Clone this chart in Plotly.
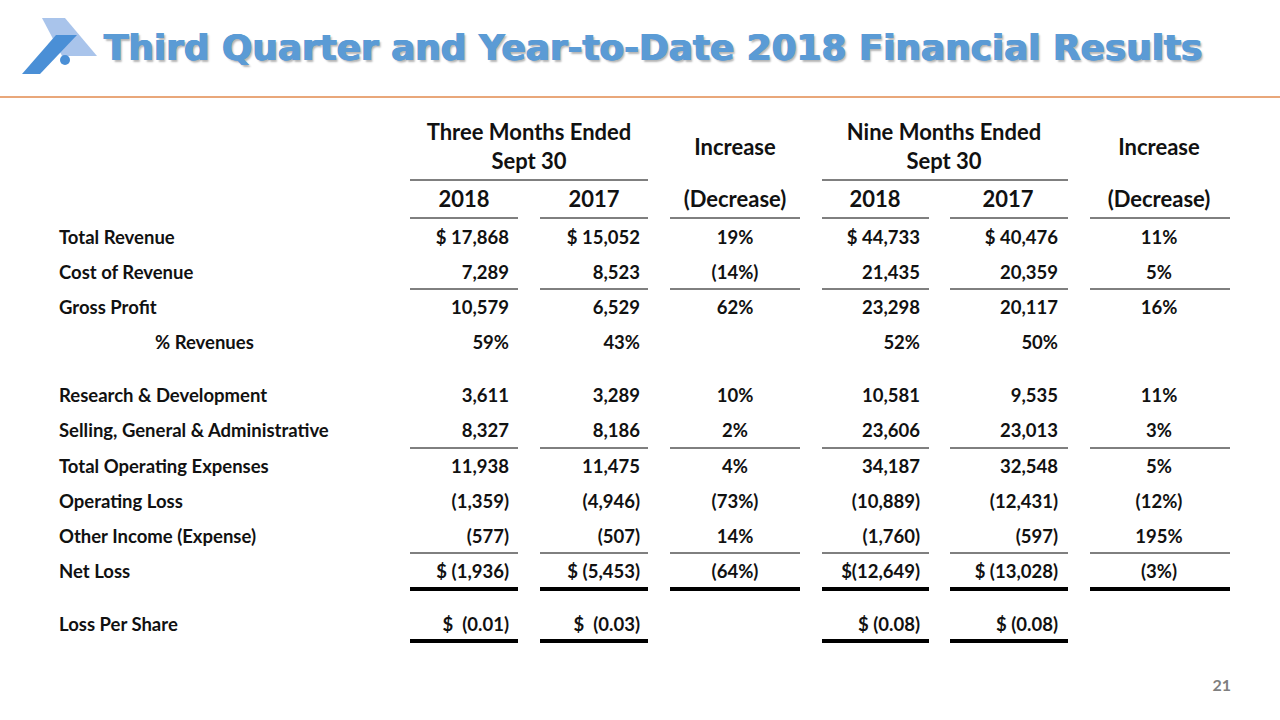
import plotly.graph_objects as go

# ---------------- data ----------------
row_labels = ["Total Revenue", "Cost of Revenue", "Gross Profit", "% Revenues",
              "Research & Development", "Selling, General & Administrative",
              "Total Operating Expenses", "Operating Loss", "Other Income (Expense)",
              "Net Loss", "Loss Per Share"]
q3_2018 = ["$ 17,868", "7,289", "10,579", "59%", "3,611", "8,327", "11,938",
           "(1,359)", "(577)", "$ (1,936)", "$\u00a0\u00a0(0.01)"]
q3_2017 = ["$ 15,052", "8,523", "6,529", "43%", "3,289", "8,186", "11,475",
           "(4,946)", "(507)", "$ (5,453)", "$\u00a0\u00a0(0.03)"]
q3_change = ["19%", "(14%)", "62%", "", "10%", "2%", "4%", "(73%)", "14%", "(64%)", ""]
ytd_2018 = ["$ 44,733", "21,435", "23,298", "52%", "10,581", "23,606", "34,187",
            "(10,889)", "(1,760)", "$(12,649)", "$ (0.08)"]
ytd_2017 = ["$ 40,476", "20,359", "20,117", "50%", "9,535", "23,013", "32,548",
            "(12,431)", "(597)", "$ (13,028)", "$ (0.08)"]
ytd_change = ["11%", "5%", "16%", "", "11%", "3%", "5%", "(12%)", "195%", "(3%)", ""]

group_headers = ["Three Months Ended<br>Sept 30", "Increase", "Nine Months Ended<br>Sept 30", "Increase"]
col_headers = ["2018", "2017", "(Decrease)", "2018", "2017", "(Decrease)"]
title = "Third Quarter and Year-to-Date 2018 Financial Results"
page_no = "21"

# ---------------- layout (pixel space) ----------------
row_y = [239, 274, 309, 344, 397, 432, 468, 503, 538, 573, 626]
label_x = [59, 59, 59, 155, 59, 59, 59, 59, 59, 59, 59]
col_seg = [(410, 518), (540, 648), (670, 800), (822, 929), (950, 1068), (1090, 1230)]
col_anchor = [509, 640, 735, 920, 1058, 1159]
col_align = ["middle left", "middle left", "middle center", "middle left", "middle left", "middle center"]

FONT = "Lato"
TXT = "#111111"
BODY = 18.5
HEAD = 22
TITLE_BLUE = "#5B9BD5"
fig = go.Figure()

# labels
fig.add_trace(go.Scatter(x=label_x, y=row_y, text=row_labels, mode="text",
                         textposition="middle right",
                         textfont=dict(family=FONT, size=BODY, color=TXT, weight="bold"),
                         hoverinfo="skip"))

columns = [q3_2018, q3_2017, q3_change, ytd_2018, ytd_2017, ytd_change]
for vals, ax, pos in zip(columns, col_anchor, col_align):
    fig.add_trace(go.Scatter(x=[ax] * len(vals), y=row_y, text=vals, mode="text",
                             textposition=pos,
                             textfont=dict(family=FONT, size=BODY, color=TXT, weight="bold"),
                             hoverinfo="skip"))

# headers
gh_x = [529, 735, 944, 1159]
gh_y = [149, 149, 149, 149]
fig.add_trace(go.Scatter(x=gh_x, y=gh_y, text=group_headers, mode="text",
                         textposition="middle center",
                         textfont=dict(family=FONT, size=HEAD, color=TXT, weight="bold"),
                         hoverinfo="skip"))
ch_x = [464, 594, 735, 875, 1008, 1159]
fig.add_trace(go.Scatter(x=ch_x, y=[201] * 6, text=col_headers, mode="text",
                         textposition="middle center",
                         textfont=dict(family=FONT, size=HEAD, color=TXT, weight="bold"),
                         hoverinfo="skip"))

# rules
def seg_trace(segs, y, width):
    xs, ys = [], []
    for a, b in segs:
        xs += [a, b, None]
        ys += [y, y, None]
    return go.Scatter(x=xs, y=ys, mode="lines", line=dict(color="#000000", width=width),
                      hoverinfo="skip")

fig.add_trace(seg_trace([(410, 648), (822, 1068)], 180, 1))
fig.add_trace(seg_trace(col_seg, 218, 1))
fig.add_trace(seg_trace(col_seg, 289, 1))
fig.add_trace(seg_trace(col_seg, 448, 1))
fig.add_trace(seg_trace(col_seg, 553, 1))
fig.add_trace(seg_trace(col_seg, 589, 4))
fig.add_trace(seg_trace([col_seg[0], col_seg[1], col_seg[3], col_seg[4]], 641, 4))

# orange separator
fig.add_trace(go.Scatter(x=[0, 1280], y=[97, 97], mode="lines",
                         line=dict(color="#E9A77A", width=2), hoverinfo="skip"))

# title
fig.add_trace(go.Scatter(x=[104], y=[51], text=[title], mode="text",
                         textposition="middle right",
                         textfont=dict(family="DejaVu Sans", size=35.8, color=TITLE_BLUE, weight="bold",
                                       shadow=f"0.7px 0 0 {TITLE_BLUE}, -0.7px 0 0 {TITLE_BLUE}, 2px 2px 2px #b5b5b5"),
                         hoverinfo="skip"))
# page number
fig.add_trace(go.Scatter(x=[1231], y=[687], text=[page_no], mode="text",
                         textposition="middle left",
                         textfont=dict(family=FONT, size=16, color="#7f7f7f", weight="bold"),
                         hoverinfo="skip"))

# logo shapes
fig.add_shape(type="path", path="M 42 18 L 65 18 L 97 56 L 62 56 Z",
              fillcolor="#A9C4EB", line=dict(width=0), layer="above")
fig.add_shape(type="path", path="M 22 74 L 40 74 L 77 35 L 56 35 Z",
              fillcolor="#4A8FD6", line=dict(width=0), layer="above")
fig.add_shape(type="circle", x0=60, x1=70, y0=55, y1=65,
              fillcolor="#4A8FD6", line=dict(width=0), layer="above")

fig.update_layout(
    width=1280, height=720, margin=dict(l=0, r=0, t=0, b=0),
    paper_bgcolor="white", plot_bgcolor="white", showlegend=False,
    xaxis=dict(range=[0, 1280], visible=False, fixedrange=True),
    yaxis=dict(range=[720, 0], visible=False, fixedrange=True),
)
fig.write_html("out.html", config={"displayModeBar": False},
               post_script="document.body.style.margin='0';document.body.style.overflow='hidden';")
